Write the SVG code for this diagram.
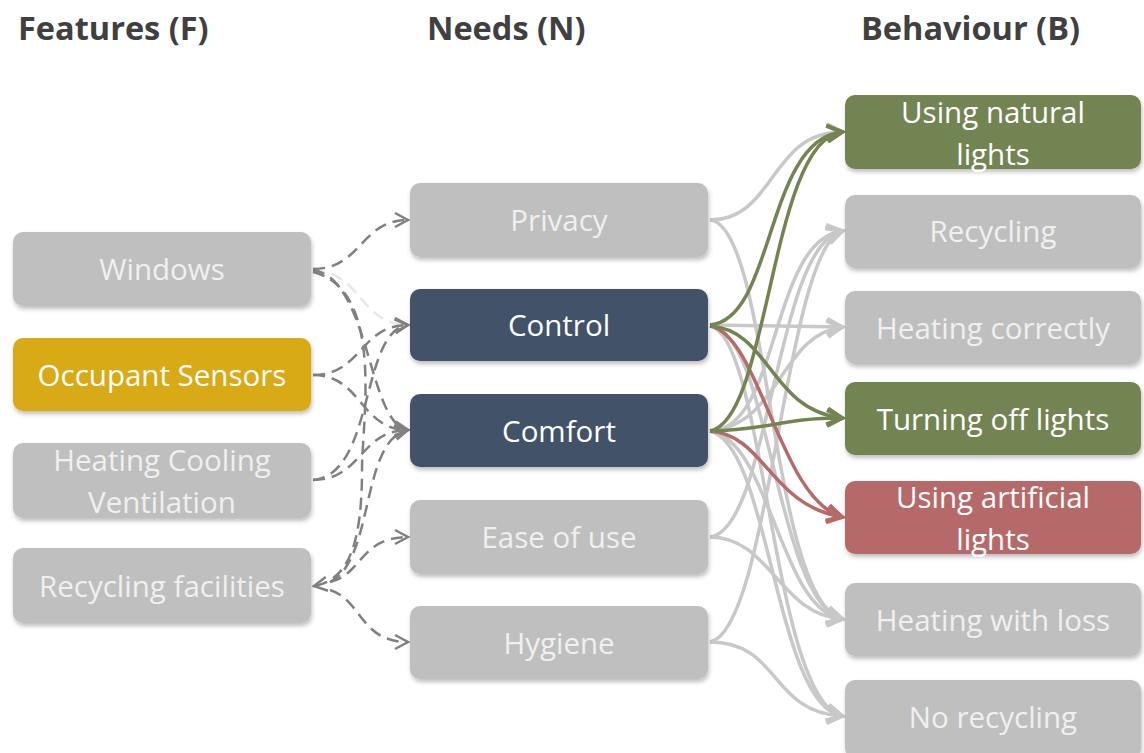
<svg xmlns="http://www.w3.org/2000/svg" width="1144" height="753" viewBox="0 0 1144 753">
<style>
.title{font-family:"Open Sans","Liberation Sans",sans-serif;font-weight:bold;font-size:32.5px;fill:#404040}
.lbl{font-family:"Open Sans","Liberation Sans",sans-serif;font-size:29.5px;text-anchor:middle}
.lt{fill:#f0f0f0}
.wt{fill:#ffffff}
.gray{fill:#bfbfbf}
.gold{fill:#d8aa17}
.navy{fill:#425269}
.green{fill:#738452}
.red{fill:#b56b69}
.dash{fill:none;stroke:#808080;stroke-width:2.5;stroke-dasharray:12 7}
.faint{fill:none;stroke:#e8e8e8;stroke-width:2.5;stroke-dasharray:12 7}
.cg{fill:none;stroke:#c8c8c8;stroke-width:3.5}
.cgr{fill:none;stroke:#738452;stroke-width:3.5}
.cr{fill:none;stroke:#b56b69;stroke-width:3.5}
</style>
<defs>
<filter id="sh" x="-10%" y="-20%" width="120%" height="150%">
<feDropShadow dx="1" dy="3" stdDeviation="2" flood-color="#000" flood-opacity="0.25"/>
</filter>
<marker id="ad" markerUnits="userSpaceOnUse" markerWidth="20" markerHeight="20" refX="16" refY="10" orient="auto"><path d="M3,3 L16,10 L3,17" fill="none" stroke="#808080" stroke-width="2.5"/></marker>
<marker id="af" markerUnits="userSpaceOnUse" markerWidth="20" markerHeight="20" refX="16" refY="10" orient="auto"><path d="M3,3 L16,10 L3,17" fill="none" stroke="#e0e0e0" stroke-width="2.5"/></marker>
<marker id="ag" markerUnits="userSpaceOnUse" markerWidth="22" markerHeight="22" refX="18" refY="11" orient="auto"><path d="M3,3 L18,11 L3,19" fill="none" stroke="#c8c8c8" stroke-width="4"/></marker>
<marker id="agr" markerUnits="userSpaceOnUse" markerWidth="22" markerHeight="22" refX="18" refY="11" orient="auto"><path d="M3,3 L18,11 L3,19" fill="none" stroke="#738452" stroke-width="4"/></marker>
<marker id="ar" markerUnits="userSpaceOnUse" markerWidth="22" markerHeight="22" refX="18" refY="11" orient="auto"><path d="M3,3 L18,11 L3,19" fill="none" stroke="#b56b69" stroke-width="4"/></marker>
</defs>
<rect width="1144" height="753" fill="#ffffff"/>
<text class="title" x="18" y="40">Features (F)</text>
<text class="title" x="427" y="40">Needs (N)</text>
<text class="title" x="861" y="40">Behaviour (B)</text>

<g id="connectors">
<g id="left-connectors">
<path class="faint" d="M313,270 C362,272 360,325 408,325" marker-end="url(#af)"/>
<path class="dash" d="M313,269 C362,269 360,220 408,220" marker-end="url(#ad)"/>
<path class="dash" d="M313,270 C370,278 368,425 408,430" marker-end="url(#ad)"/>
<path class="dash" d="M313,272 C385,290 362,420 362,470 C362,540 350,580 314,586" marker-end="url(#ad)"/>
<path class="dash" d="M313,375 C362,375 360,325 408,325" marker-end="url(#ad)"/>
<path class="dash" d="M313,375 C362,375 360,430 408,430" marker-end="url(#ad)"/>
<path class="dash" d="M313,480 C375,475 360,330 408,325" marker-end="url(#ad)"/>
<path class="dash" d="M313,480 C362,480 360,430 408,430" marker-end="url(#ad)"/>
<path class="dash" d="M330,582 C375,560 360,440 408,430" marker-end="url(#ad)"/>
<path class="dash" d="M330,582 C362,575 360,537 408,537" marker-end="url(#ad)"/>
<path class="dash" d="M330,590 C362,600 360,642 408,642" marker-end="url(#ad)"/>
</g>
<g id="right-connectors">
<path class="cg" d="M710,220 C775,220 770,132 842,132" marker-end="url(#ag)"/>
<path class="cg" d="M710,220 C770,225 770,600 842,619" marker-end="url(#ag)"/>
<path class="cg" d="M710,325 L842,327" marker-end="url(#ag)"/>
<path class="cg" d="M710,326 C770,330 775,600 842,619" marker-end="url(#ag)"/>
<path class="cg" d="M710,326 C765,335 772,700 842,716" marker-end="url(#ag)"/>
<path class="cg" d="M710,431 C780,430 770,240 842,231" marker-end="url(#ag)"/>
<path class="cg" d="M710,431 C780,425 780,335 842,327" marker-end="url(#ag)"/>
<path class="cg" d="M710,431 C770,440 780,610 842,619" marker-end="url(#ag)"/>
<path class="cg" d="M710,431 C770,445 775,705 842,716" marker-end="url(#ag)"/>
<path class="cg" d="M710,537 C770,530 775,245 842,231" marker-end="url(#ag)"/>
<path class="cg" d="M710,537 C770,537 780,615 842,619" marker-end="url(#ag)"/>
<path class="cg" d="M710,642 C770,630 785,250 842,231" marker-end="url(#ag)"/>
<path class="cg" d="M710,642 C780,642 770,712 842,716" marker-end="url(#ag)"/>
<path class="cr" d="M710,326 C760,335 780,500 842,517" marker-end="url(#ar)"/>
<path class="cr" d="M710,431 C765,435 770,505 842,517" marker-end="url(#ar)"/>
<path class="cgr" d="M710,325 C775,320 765,140 842,132" marker-end="url(#agr)"/>
<path class="cgr" d="M710,326 C770,330 770,410 842,418" marker-end="url(#agr)"/>
<path class="cgr" d="M710,431 C770,420 770,140 842,132" marker-end="url(#agr)"/>
<path class="cgr" d="M710,431 C770,430 780,418 842,418" marker-end="url(#agr)"/>
</g>
</g>

<g id="n-windows"><rect class="gray" x="13" y="232" width="298" height="74" rx="10" filter="url(#sh)"/><text class="lbl lt" x="162" y="280">Windows</text></g>
<g id="n-occupant"><rect class="gold" x="13" y="338" width="298" height="73" rx="10" filter="url(#sh)"/><text class="lbl wt" x="162" y="386">Occupant Sensors</text></g>
<g id="n-hcv"><rect class="gray" x="13" y="443" width="298" height="75" rx="10" filter="url(#sh)"/><text class="lbl lt" x="162" y="471">Heating Cooling</text><text class="lbl lt" x="162" y="513">Ventilation</text></g>
<g id="n-recfac"><rect class="gray" x="13" y="548" width="298" height="75" rx="10" filter="url(#sh)"/><text class="lbl lt" x="162" y="597">Recycling facilities</text></g>

<g id="n-privacy"><rect class="gray" x="410" y="183" width="298" height="74" rx="10" filter="url(#sh)"/><text class="lbl lt" x="559" y="231">Privacy</text></g>
<g id="n-control"><rect class="navy" x="410" y="289" width="298" height="72" rx="10" filter="url(#sh)"/><text class="lbl wt" x="559" y="336">Control</text></g>
<g id="n-comfort"><rect class="navy" x="410" y="394" width="298" height="73" rx="10" filter="url(#sh)"/><text class="lbl wt" x="559" y="442">Comfort</text></g>
<g id="n-ease"><rect class="gray" x="410" y="500" width="298" height="74" rx="10" filter="url(#sh)"/><text class="lbl lt" x="559" y="548">Ease of use</text></g>
<g id="n-hygiene"><rect class="gray" x="410" y="606" width="298" height="73" rx="10" filter="url(#sh)"/><text class="lbl lt" x="559" y="654">Hygiene</text></g>

<g id="n-natural"><rect class="green" x="845" y="95" width="296" height="74" rx="10" filter="url(#sh)"/><text class="lbl wt" x="993" y="123">Using natural</text><text class="lbl wt" x="993" y="165">lights</text></g>
<g id="n-recycling"><rect class="gray" x="845" y="195" width="296" height="73" rx="10" filter="url(#sh)"/><text class="lbl lt" x="993" y="242">Recycling</text></g>
<g id="n-heatok"><rect class="gray" x="845" y="291" width="296" height="73" rx="10" filter="url(#sh)"/><text class="lbl lt" x="993" y="339">Heating correctly</text></g>
<g id="n-turnoff"><rect class="green" x="845" y="382" width="296" height="73" rx="10" filter="url(#sh)"/><text class="lbl wt" x="993" y="430">Turning off lights</text></g>
<g id="n-artificial"><rect class="red" x="845" y="481" width="296" height="73" rx="10" filter="url(#sh)"/><text class="lbl wt" x="993" y="508">Using artificial</text><text class="lbl wt" x="993" y="550">lights</text></g>
<g id="n-heatloss"><rect class="gray" x="845" y="583" width="296" height="73" rx="10" filter="url(#sh)"/><text class="lbl lt" x="993" y="631">Heating with loss</text></g>
<g id="n-norec"><rect class="gray" x="845" y="680" width="296" height="78" rx="10" filter="url(#sh)"/><text class="lbl lt" x="993" y="728">No recycling</text></g>
</svg>
